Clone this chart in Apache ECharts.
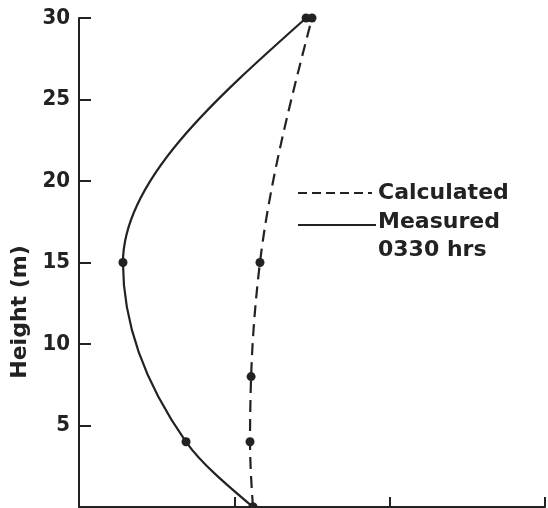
<!DOCTYPE html>
<html><head><meta charset="utf-8">
<script src="https://cdn.jsdelivr.net/npm/echarts@6/dist/echarts.min.js"></script>
<style>html,body{margin:0;padding:0;background:#fff}#c{width:548px;height:508px}</style>
</head><body><div id="c"></div>
<script>
var yTicks = [0, 5, 10, 15, 20, 25, 30];
var measuredHeight = [30, 15, 4, 0];
var measuredX = [1.462, 0.283, 0.689, 1.12];
var calcHeight = [30, 15, 8, 4, 0];
var calcX = [1.50, 1.165, 1.108, 1.101, 1.12];
var legendLabels = ['Calculated', 'Measured', '0330 hrs'];
var yAxisTitle = 'Height (m)';

function pairs(xs, ys) { return xs.map(function (x, i) { return [x, ys[i]]; }); }
var FONT = '"DejaVu Sans", sans-serif';
var TICKFONT = '"DejaVu Sans Condensed", "DejaVu Sans", sans-serif';
var INK = '#222';

// monotone cubic (in height) path through the data points, mapped via the axes
function curvePath(xs, ys, api) {
  var pts = pairs(xs, ys).sort(function (a, b) { return a[1] - b[1]; });
  var n = pts.length, h = [], s = [], m = [];
  for (var i = 0; i < n - 1; i++) {
    h[i] = pts[i + 1][1] - pts[i][1];
    s[i] = (pts[i + 1][0] - pts[i][0]) / h[i];
  }
  for (i = 1; i < n - 1; i++) {
    if (s[i - 1] * s[i] <= 0) { m[i] = 0; continue; }
    var p = (s[i - 1] * h[i] + s[i] * h[i - 1]) / (h[i - 1] + h[i]);
    m[i] = (Math.sign(s[i - 1]) + Math.sign(s[i])) *
      Math.min(Math.abs(s[i - 1]), Math.abs(s[i]), 0.5 * Math.abs(p));
  }
  m[0] = (3 * s[0] - m[1]) / 2;
  m[n - 1] = (3 * s[n - 2] - m[n - 2]) / 2;
  var c = api.coord(pts[0]);
  var d = 'M' + c[0] + ' ' + c[1];
  for (i = 0; i < n - 1; i++) {
    var a = pts[i], b = pts[i + 1], hh = h[i];
    var c1 = api.coord([a[0] + m[i] * hh / 3, a[1] + hh / 3]);
    var c2 = api.coord([b[0] - m[i + 1] * hh / 3, b[1] - hh / 3]);
    var e = api.coord(b);
    d += ' C' + c1[0] + ' ' + c1[1] + ' ' + c2[0] + ' ' + c2[1] + ' ' + e[0] + ' ' + e[1];
  }
  return d;
}
function curveSeries(xs, ys, dash) {
  return {
    type: 'custom', clip: false, data: pairs(xs, ys),
    renderItem: function (params, api) {
      var children = [];
      if (params.dataIndex === 0) {
        children.push({ type: 'path', shape: { pathData: curvePath(xs, ys, api) },
          style: { fill: null, stroke: INK, lineWidth: 2.2, lineDash: dash } });
      }
      var pt = api.coord([api.value(0), api.value(1)]);
      children.push({ type: 'circle', shape: { cx: pt[0], cy: pt[1], r: 4.5 }, style: { fill: INK } });
      return { type: 'group', children: children };
    }
  };
}

var chart = echarts.init(document.getElementById('c'));
chart.setOption({
  animation: false,
  grid: { left: 79, right: 3, top: 18, bottom: 1 },
  xAxis: {
    type: 'value', min: 0, max: 3, interval: 1,
    axisLine: { lineStyle: { color: INK, width: 2 } },
    axisTick: { inside: true, length: 10, lineStyle: { color: INK, width: 2 } },
    axisLabel: { show: false },
    splitLine: { show: false }
  },
  yAxis: {
    type: 'value', min: yTicks[0], max: yTicks[yTicks.length - 1], interval: 5,
    axisLine: { lineStyle: { color: INK, width: 2 } },
    axisTick: { inside: true, length: 12, lineStyle: { color: INK, width: 2 } },
    axisLabel: { fontFamily: TICKFONT, fontSize: 22, color: INK, fontWeight: 'bold', margin: 9,
      formatter: function (v) { return v === 0 ? '' : String(v); } },
    splitLine: { show: false }
  },
  series: [
    curveSeries(measuredX, measuredHeight, null),
    curveSeries(calcX, calcHeight, [12, 7])
  ],
  graphic: [
    { type: 'text', x: 20, y: 312, rotation: Math.PI / 2,
      style: { text: yAxisTitle, font: 'bold 22px ' + FONT, fill: INK, align: 'center', verticalAlign: 'middle' } },
    { type: 'line', shape: { x1: 298, y1: 193, x2: 372, y2: 193 },
      style: { stroke: INK, lineWidth: 2.2, lineDash: [9, 5] } },
    { type: 'text', x: 378, y: 193, style: { text: legendLabels[0], font: 'bold 22px ' + FONT, fill: INK, verticalAlign: 'middle' } },
    { type: 'line', shape: { x1: 298, y1: 225, x2: 376, y2: 225 },
      style: { stroke: INK, lineWidth: 2.2 } },
    { type: 'text', x: 378, y: 222, style: { text: legendLabels[1], font: 'bold 22px ' + FONT, fill: INK, verticalAlign: 'middle' } },
    { type: 'text', x: 378, y: 250, style: { text: legendLabels[2], font: 'bold 22px ' + FONT, fill: INK, verticalAlign: 'middle' } }
  ]
});
</script></body></html>
